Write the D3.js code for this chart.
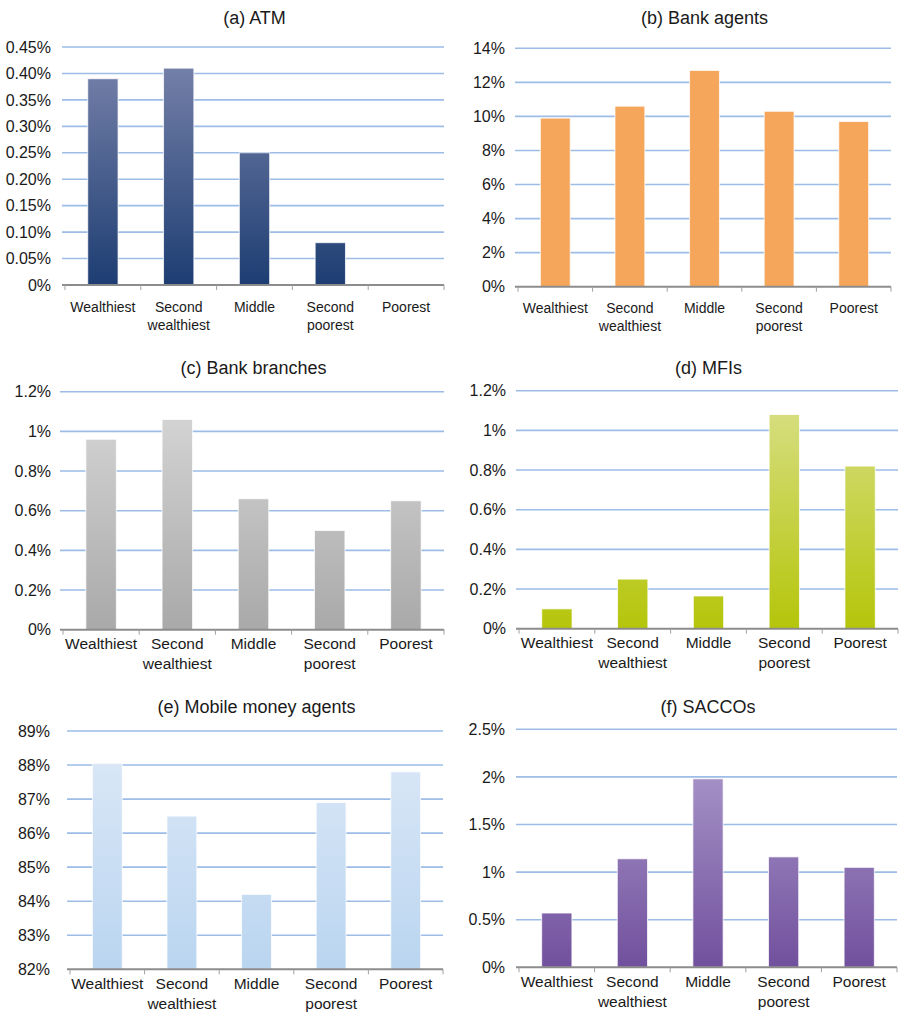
<!DOCTYPE html>
<html>
<head>
<meta charset="utf-8">
<script src="https://cdn.jsdelivr.net/npm/d3@7"></script>
<style>
  html, body { margin: 0; padding: 0; background: #ffffff; }
  svg { display: block; font-family: "Liberation Sans", Arial, sans-serif; }
</style>
</head>
<body>
<svg id="chart" width="899" height="1013"></svg>
<script>
// Wealth quintiles shown on every panel
const categories = ["Wealthiest", "Second wealthiest", "Middle", "Second poorest", "Poorest"];

// Share of respondents (in %) nearest to each access point type
const atmValues = [0.39, 0.41, 0.25, 0.08, 0];
const bankAgentValues = [9.9, 10.6, 12.7, 10.3, 9.7];
const bankBranchValues = [0.96, 1.06, 0.66, 0.50, 0.65];
const mfiValues = [0.10, 0.25, 0.165, 1.08, 0.82];
const mobileMoneyValues = [88.05, 86.5, 84.2, 86.9, 87.8];
const saccoValues = [0.57, 1.14, 1.98, 1.16, 1.05];

// Y axis ticks and their labels
const atmTicks = [0, 0.05, 0.10, 0.15, 0.20, 0.25, 0.30, 0.35, 0.40, 0.45];
const atmTickLabels = ["0%", "0.05%", "0.10%", "0.15%", "0.20%", "0.25%", "0.30%", "0.35%", "0.40%", "0.45%"];
const bankAgentTicks = [0, 2, 4, 6, 8, 10, 12, 14];
const bankAgentTickLabels = ["0%", "2%", "4%", "6%", "8%", "10%", "12%", "14%"];
const oneTwoTicks = [0, 0.2, 0.4, 0.6, 0.8, 1.0, 1.2];
const oneTwoTickLabels = ["0%", "0.2%", "0.4%", "0.6%", "0.8%", "1%", "1.2%"];
const mobileTicks = [82, 83, 84, 85, 86, 87, 88, 89];
const mobileTickLabels = ["82%", "83%", "84%", "85%", "86%", "87%", "88%", "89%"];
const saccoTicks = [0, 0.5, 1.0, 1.5, 2.0, 2.5];
const saccoTickLabels = ["0%", "0.5%", "1%", "1.5%", "2%", "2.5%"];

// Panel titles
const titles = ["(a) ATM", "(b) Bank agents", "(c) Bank branches", "(d) MFIs", "(e) Mobile money agents", "(f) SACCOs"];

const svg = d3.select("#chart");
const defs = svg.append("defs");

const panels = [
  { title: titles[0], values: atmValues, ticks: atmTicks, tickLabels: atmTickLabels,
    x0: 65, x1: 444, yTop: 47, yBase: 285, titleY: 18, labelGap: 22, labelSize: 14, tickGap: 12,
    colors: ["#1d3d72", "#7c86ad"] },
  { title: titles[1], values: bankAgentValues, ticks: bankAgentTicks, tickLabels: bankAgentTickLabels,
    x0: 518, x1: 891, yTop: 48.3, yBase: 286.7, titleY: 18, labelGap: 21, labelSize: 14, tickGap: 11,
    colors: ["#f5a65b", "#f5a65b"] },
  { title: titles[2], values: bankBranchValues, ticks: oneTwoTicks, tickLabels: oneTwoTickLabels,
    x0: 63, x1: 444, yTop: 391.7, yBase: 629.7, titleY: 368, labelGap: 13.5, labelSize: 15.5, tickGap: 10,
    colors: ["#a9a9a9", "#d8d8d8"] },
  { title: titles[3], values: mfiValues, ticks: oneTwoTicks, tickLabels: oneTwoTickLabels,
    x0: 519, x1: 898, yTop: 390.7, yBase: 628.7, titleY: 368, labelGap: 14, labelSize: 15.5, tickGap: 11,
    colors: ["#b5c50a", "#d9e08a"] },
  { title: titles[4], values: mobileMoneyValues, ticks: mobileTicks, tickLabels: mobileTickLabels,
    x0: 70, x1: 443, yTop: 731, yBase: 969.3, titleY: 707, labelGap: 14, labelSize: 15.5, tickGap: 18,
    colors: ["#bad5f0", "#dde9f7"] },
  { title: titles[5], values: saccoValues, ticks: saccoTicks, tickLabels: saccoTickLabels,
    x0: 519, x1: 897, yTop: 729.3, yBase: 967.3, titleY: 707, labelGap: 14, labelSize: 15.5, tickGap: 12,
    colors: ["#71509d", "#b0a0cf"] }
];

panels.forEach((p, i) => {
  const g = svg.append("g");
  const x = d3.scaleBand()
    .domain(categories)
    .range([p.x0, p.x1])
    .paddingInner(0.6)
    .paddingOuter(0.3);
  const y = d3.scaleLinear()
    .domain([p.ticks[0], p.ticks[p.ticks.length - 1]])
    .range([p.yBase, p.yTop]);

  // Vertical gradient spanning the whole plot height
  const gradId = "grad" + i;
  const grad = defs.append("linearGradient")
    .attr("id", gradId)
    .attr("gradientUnits", "userSpaceOnUse")
    .attr("x1", 0).attr("x2", 0)
    .attr("y1", p.yBase).attr("y2", p.yTop);
  grad.append("stop").attr("offset", "0%").attr("stop-color", p.colors[0]);
  grad.append("stop").attr("offset", "100%").attr("stop-color", p.colors[1]);

  // Title
  g.append("text")
    .attr("x", (p.x0 + p.x1) / 2)
    .attr("y", p.titleY)
    .attr("dy", "0.35em")
    .attr("text-anchor", "middle")
    .attr("font-size", 18)
    .attr("fill", "#1a1a1a")
    .text(p.title);

  // Y axis labels
  const yAxis = d3.axisLeft(y)
    .tickValues(p.ticks)
    .tickSize(0)
    .tickPadding(p.tickGap)
    .tickFormat((d, k) => p.tickLabels[k]);
  const ya = g.append("g")
    .attr("transform", `translate(${p.x0 - 2},0)`)
    .call(yAxis);
  ya.select(".domain").remove();
  ya.selectAll("text")
    .attr("font-size", 16)
    .attr("font-family", "Liberation Sans, Arial, sans-serif")
    .attr("fill", "#1a1a1a");

  // Horizontal gridlines (the baseline is drawn separately)
  g.append("g")
    .selectAll("line")
    .data(p.ticks.slice(1))
    .join("line")
    .attr("x1", p.x0 - 3)
    .attr("x2", p.x1)
    .attr("y1", d => y(d))
    .attr("y2", d => y(d))
    .attr("stroke", "#9dbde6")
    .attr("stroke-width", 1.6);

  // Bars
  g.append("g")
    .selectAll("rect")
    .data(p.values)
    .join("rect")
    .attr("x", (d, k) => x(categories[k]))
    .attr("width", x.bandwidth())
    .attr("y", d => y(d))
    .attr("height", d => p.yBase - y(d))
    .attr("fill", `url(#${gradId})`)
    .attr("stroke", "rgba(255,255,255,0.75)")
    .attr("stroke-width", 1);

  // Category axis: baseline with ticks at band boundaries
  g.append("line")
    .attr("x1", p.x0 - 3).attr("x2", p.x1)
    .attr("y1", p.yBase).attr("y2", p.yBase)
    .attr("stroke", "#8c8c8c")
    .attr("stroke-width", 2);
  const step = x.step();
  g.append("g")
    .selectAll("line")
    .data(d3.range(categories.length + 1))
    .join("line")
    .attr("x1", k => p.x0 + k * step)
    .attr("x2", k => p.x0 + k * step)
    .attr("y1", p.yBase)
    .attr("y2", p.yBase + 5)
    .attr("stroke", "#a0a0a0")
    .attr("stroke-width", 1);

  // Category labels, two-word labels wrapped after the first word
  const labels = g.append("g")
    .selectAll("text")
    .data(categories)
    .join("text")
    .attr("text-anchor", "middle")
    .attr("font-size", p.labelSize)
    .attr("fill", "#1a1a1a")
    .attr("transform", d => `translate(${x(d) + x.bandwidth() / 2},${p.yBase + p.labelGap})`);
  labels.each(function (d) {
    const words = d.split(" ");
    const lines = words.length > 1 ? [words[0], words.slice(1).join(" ")] : [d];
    d3.select(this).selectAll("tspan")
      .data(lines)
      .join("tspan")
      .attr("x", 0)
      .attr("y", (l, k) => k * (p.labelSize + 4.5))
      .attr("dy", "0.35em")
      .text(l => l);
  });
});
</script>
</body>
</html>
